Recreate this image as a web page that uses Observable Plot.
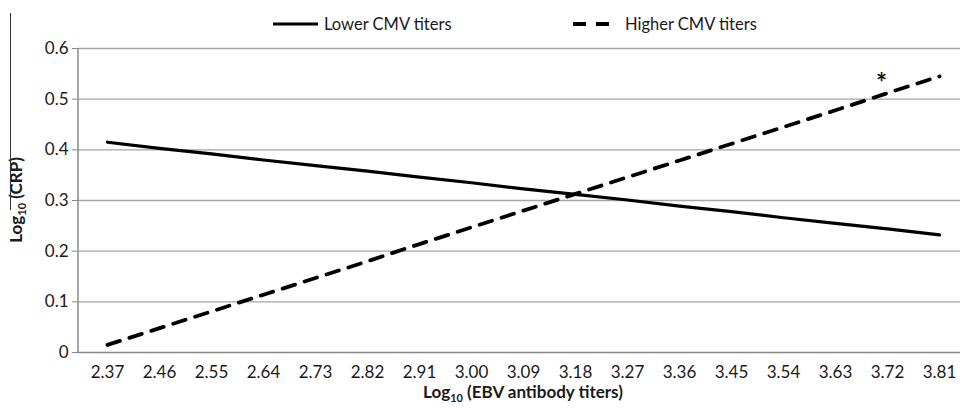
<!DOCTYPE html>
<html>
<head>
<meta charset="utf-8">
<script src="https://cdn.jsdelivr.net/npm/d3@7"></script>
<script src="https://cdn.jsdelivr.net/npm/@observablehq/plot@0.6"></script>
<style>
  html, body { margin: 0; padding: 0; background: #fff; }
  #wrap { position: relative; width: 960px; height: 409px; overflow: hidden; font-family: Lato, "Open Sans", sans-serif; }
  #legend { position: absolute; left: 0; top: 0; width: 960px; height: 40px; }
  #edge { position: absolute; left: 10px; top: 13px; width: 0; height: 197px; border-left: 1px solid #333; }
</style>
</head>
<body>
<div id="wrap">
  <div id="chart"></div>
  <svg id="legend" width="960" height="40"></svg>
  <div id="edge"></div>
</div>
<script>
const categories = ["2.37","2.46","2.55","2.64","2.73","2.82","2.91","3.00","3.09","3.18","3.27","3.36","3.45","3.54","3.63","3.72","3.81"];
const lowerCMV  = [0.415,0.403,0.392,0.380,0.369,0.358,0.346,0.335,0.323,0.312,0.301,0.289,0.278,0.266,0.255,0.244,0.232];
const higherCMV = [0.015,0.048,0.081,0.114,0.147,0.180,0.214,0.247,0.280,0.313,0.346,0.379,0.412,0.445,0.478,0.512,0.545];
const yTicks = [0, 0.1, 0.2, 0.3, 0.4, 0.5, 0.6];
const seriesNames = ["Lower CMV titers", "Higher CMV titers"];
const annotation = [{x: "3.72", y: 0.53, label: "*"}];

const lowerData = categories.map((c, i) => ({x: c, y: lowerCMV[i]}));
const higherData = categories.map((c, i) => ({x: c, y: higherCMV[i]}));

const FONT = "Lato, 'Open Sans', sans-serif";

const plot = Plot.plot({
  width: 960,
  height: 409,
  marginTop: 48,
  marginBottom: 57,
  marginLeft: 78,
  marginRight: -8,
  style: {fontFamily: FONT, fontSize: "17px", color: "#1a1a1a", background: "#fff"},
  x: {type: "point", domain: categories, padding: 0.5},
  y: {domain: [0, 0.6]},
  marks: [
    Plot.ruleY(yTicks.slice(1), {stroke: "#a6a6a6", strokeWidth: 1.3}),
    Plot.ruleY([0], {stroke: "#888", strokeWidth: 1.5}),
    Plot.axisY({ticks: yTicks, tickSize: 6, tickPadding: 4, stroke: "#888", tickFormat: d => d === 0 ? "0" : d.toFixed(1), label: null, fontSize: 17, fill: "#1a1a1a"}),
    Plot.axisX({tickSize: 0, tickPadding: 13, label: null, fontSize: 17, fill: "#1a1a1a"}),
    Plot.line(lowerData, {x: "x", y: "y", stroke: "#000", strokeWidth: 3.2}),
    Plot.line(higherData, {x: "x", y: "y", stroke: "#000", strokeWidth: 3.8, strokeDasharray: "13,10"}),
    Plot.text(annotation, {x: "x", y: "y", text: "label", dx: -6, fontSize: 26, fontWeight: "bold", fill: "#111"})
  ]
});
document.getElementById("chart").appendChild(plot);

const svg = d3.select(plot);
const ys = plot.scale("y");
svg.append("line")
  .attr("x1", 78).attr("x2", 78)
  .attr("y1", ys.apply(0.6)).attr("y2", ys.apply(0))
  .attr("stroke", "#888").attr("stroke-width", 1.5);

const xt = svg.append("text")
  .attr("x", (78 + 968) / 2).attr("y", 398)
  .attr("text-anchor", "middle")
  .attr("font-family", FONT)
  .attr("font-weight", "bold").attr("font-size", 17).attr("fill", "#1a1a1a");
xt.append("tspan").text("Log");
xt.append("tspan").attr("font-size", 11).attr("dy", 4).text("10");
xt.append("tspan").attr("dy", -4).text(" (EBV antibody titers)");

const yt = svg.append("text")
  .attr("transform", `translate(22,${(ys.apply(0.6) + ys.apply(0)) / 2}) rotate(-90)`)
  .attr("text-anchor", "middle")
  .attr("font-family", FONT)
  .attr("font-weight", "bold").attr("font-size", 17).attr("fill", "#1a1a1a");
yt.append("tspan").text("Log");
yt.append("tspan").attr("font-size", 11).attr("dy", 4).text("10");
yt.append("tspan").attr("dy", -4).text(" (CRP)");

const lg = d3.select("#legend");
const items = [
  {name: seriesNames[0], x1: 273, x2: 318, dash: null, w: 3.2, tx: 324},
  {name: seriesNames[1], x1: 573, x2: 612, dash: "13,10", w: 3.8, tx: 625}
];
for (const it of items) {
  lg.append("line").attr("x1", it.x1).attr("x2", it.x2).attr("y1", 24).attr("y2", 24)
    .attr("stroke", "#000").attr("stroke-width", it.w).attr("stroke-dasharray", it.dash);
  lg.append("text").attr("x", it.tx).attr("y", 30).attr("font-size", 16.5)
    .attr("font-family", FONT).attr("fill", "#1a1a1a").text(it.name);
}
</script>
</body>
</html>
